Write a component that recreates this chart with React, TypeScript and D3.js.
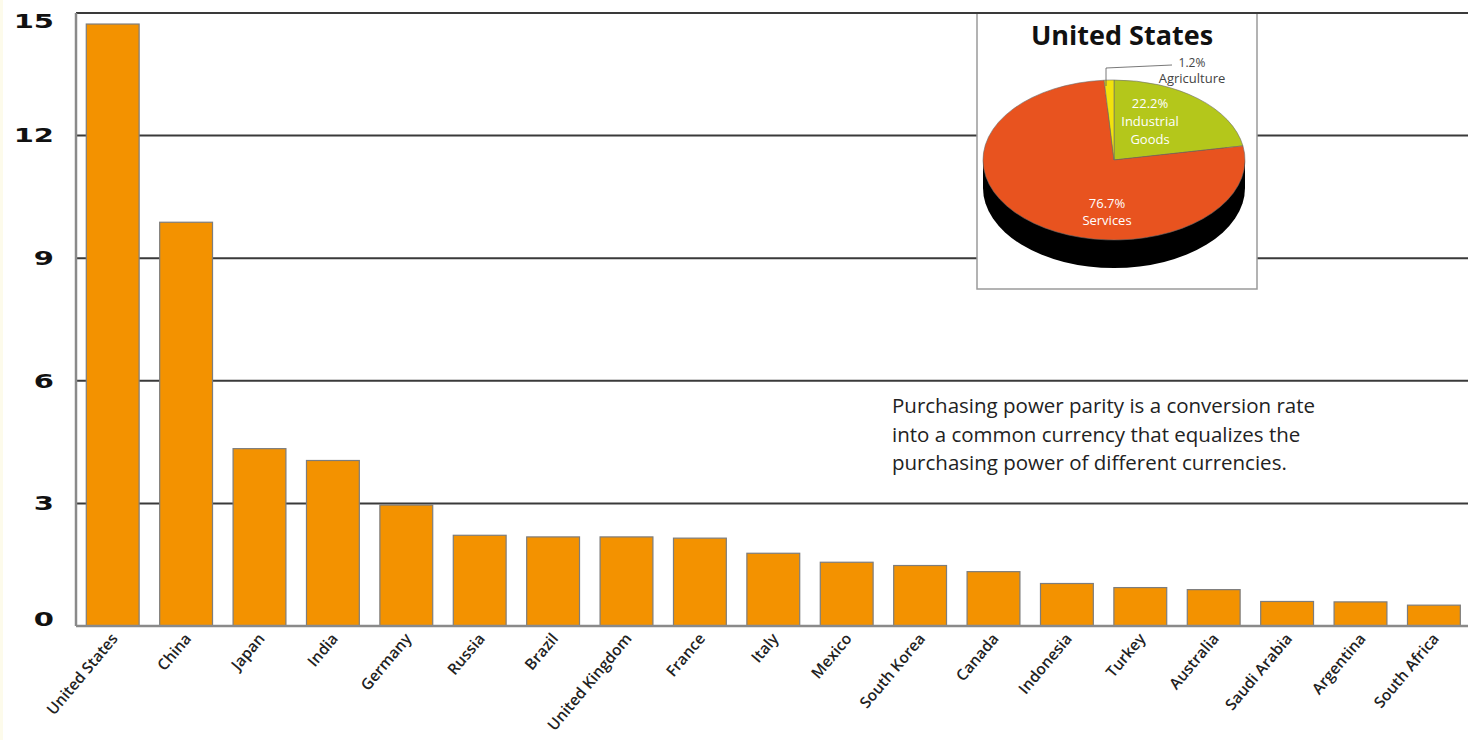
import React from "react";
import * as d3 from "d3";

const countries = ["United States","China","Japan","India","Germany","Russia","Brazil","United Kingdom","France","Italy","Mexico","South Korea","Canada","Indonesia","Turkey","Australia","Saudi Arabia","Argentina","South Africa"];
const gdpPPP = [14.73,9.88,4.34,4.05,2.96,2.22,2.18,2.18,2.15,1.78,1.56,1.48,1.33,1.04,0.94,0.89,0.6,0.59,0.51];
const yTicks = [0,3,6,9,12,15];

const pieLabels = ["Industrial Goods","Services","Agriculture"];
const pieValues = [22.2,76.7,1.2];
const pieColors = ["#b4c71b","#e8531f","#f2e30c"];

const noteLines = [
  "Purchasing power parity is a conversion rate",
  "into a common currency that equalizes the",
  "purchasing power of different currencies."
];

const W = 1468, H = 740;

export default function App() {
  const left = 76, right = W, top = 13, bottom = 626;
  const x = d3.scaleBand<string>().domain(countries).range([left, left + countries.length * 73.4]).paddingInner(0.28).paddingOuter(0.14);
  const y = d3.scaleLinear().domain([0, 15]).range([bottom, top]);

  // pie
  const cx = 1114, cy = 160, rx = 131, ry = 80, depth = 28;
  const pie = d3.pie<number>().sort(null).value(d => d);
  const arcs = pie(pieValues);
  const arc = d3.arc<d3.PieArcDatum<number>>().innerRadius(0).outerRadius(rx);
  const sy = ry / rx;

  return (
    <svg width={W} height={H} style={{ position: "fixed", left: 0, top: 0, background: "#fff" }}>
      <rect x={0} y={0} width={W} height={H} fill="#fff" />
      <rect x={0} y={0} width={3} height={H} fill="#fdfbeb" />
      {/* gridlines */}
      {yTicks.filter(t => t > 0).map(t => (
        <line key={t} x1={left} x2={right} y1={y(t)} y2={y(t)} stroke="#3a3a3a" strokeWidth={2} />
      ))}
      {/* axis */}
      <line x1={left} x2={left} y1={top} y2={bottom} stroke="#8a8a8a" strokeWidth={2.5} />
      {/* bars */}
      {countries.map((c, i) => (
        <rect key={c} x={x(c)} y={y(gdpPPP[i])} width={x.bandwidth()} height={bottom - y(gdpPPP[i])}
          fill="#f39200" stroke="#7d7d7d" strokeWidth={1.2} />
      ))}
      <line x1={left} x2={right} y1={bottom} y2={bottom} stroke="#8a8a8a" strokeWidth={2.5} />
      {/* y labels */}
      {yTicks.map(t => {
        const yy = t === 15 ? y(t) + 8 : t === 0 ? y(t) - 7 : y(t);
        return (
          <text key={t} transform={`translate(54,${yy}) scale(1.45,1)`} textAnchor="end" dominantBaseline="central"
            fontFamily="DejaVu Sans" fontWeight="bold" fontSize={20} fill="#111">{t}</text>
        );
      })}
      {/* x labels */}
      {countries.map(c => (
        <text key={c} transform={`translate(${(x(c) as number) + x.bandwidth() / 2 + 6},${bottom + 13}) rotate(-50)`}
          textAnchor="end" fontFamily="Open Sans" fontWeight={600} fontSize={15.5} fill="#222">{c}</text>
      ))}
      {/* note */}
      <text fontFamily="Open Sans" fontSize={20.5} fill="#222">
        {noteLines.map((l, i) => (
          <tspan key={i} x={892} y={413 + i * 28.5}>{l}</tspan>
        ))}
      </text>
      {/* inset */}
      <rect x={977} y={top} width={280} height={276} fill="#fff" stroke="#9a9a9a" strokeWidth={1.5} />
      <line x1={970} x2={1265} y1={top} y2={top} stroke="#3a3a3a" strokeWidth={2} />
      <text x={1122} y={45} textAnchor="middle" fontFamily="Open Sans" fontWeight="bold" fontSize={27} fill="#111">United States</text>
      {/* 3D side */}
      <ellipse cx={cx} cy={cy + depth} rx={rx} ry={ry} fill="#000" />
      <rect x={cx - rx} y={cy} width={rx * 2} height={depth} fill="#000" />
      <g transform={`translate(${cx},${cy}) scale(1,${sy})`}>
        {arcs.map((a, i) => (
          <path key={pieLabels[i]} d={arc(a) as string} fill={pieColors[i]} stroke="#6b6b6b" strokeWidth={0.6} vectorEffect="non-scaling-stroke" />
        ))}
      </g>
      {/* leader for agriculture */}
      <polyline points={`${cx - 8},${cy - ry + 6} ${cx - 8},${cy - ry - 12} ${cx + 58},${cy - ry - 15}`} fill="none" stroke="#555" strokeWidth={0.8} />
      <g fontFamily="Open Sans" fontSize={13} textAnchor="middle">
        <text x={cx + 36} y={cy - 52} fill="#fff">{pieValues[0]}%</text>
        <text x={cx + 36} y={cy - 34} fill="#fff">Industrial</text>
        <text x={cx + 36} y={cy - 16} fill="#fff">Goods</text>
        <text x={cx - 7} y={cy + 48} fill="#fff">{pieValues[1]}%</text>
        <text x={cx - 7} y={cy + 65} fill="#fff">{pieLabels[1]}</text>
        <text x={cx + 78} y={cy - 93} fontSize={12} fill="#444">{pieValues[2]}%</text>
        <text x={cx + 78} y={cy - 77} fill="#444">{pieLabels[2]}</text>
      </g>
    </svg>
  );
}
